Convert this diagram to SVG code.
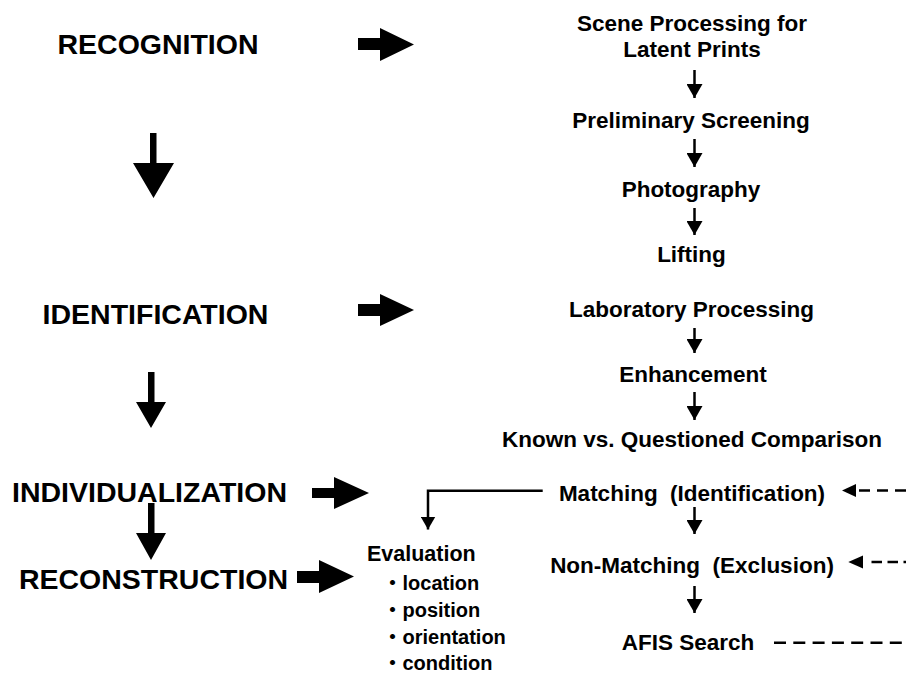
<svg xmlns="http://www.w3.org/2000/svg" width="906" height="674" viewBox="0 0 906 674">
<style>
text{font-family:"Liberation Sans",Arial,"Noto Sans CJK JP",sans-serif;font-weight:bold;fill:#000}
.big{font-size:28.5px;text-anchor:middle}
.step{font-size:22.5px;text-anchor:middle;white-space:pre}
.ev{font-size:21.5px}
.li{font-size:20px}
.fat{fill:#000;stroke:none}
.thin{stroke:#000;stroke-width:2.5;fill:none}
.dash{stroke:#000;stroke-width:2.5;fill:none}
.head{fill:#000}
</style>
<defs>
<marker id="ah" markerUnits="userSpaceOnUse" markerWidth="14" markerHeight="16" viewBox="0 0 14 16" refX="14" refY="8" orient="auto">
<path d="M0,0 L14,8 L0,16 z" fill="#000"/>
</marker>
<marker id="ah2" markerUnits="userSpaceOnUse" markerWidth="13" markerHeight="15" viewBox="0 0 13 15" refX="13" refY="7.5" orient="auto">
<path d="M0,0 L13,7.5 L0,15 z" fill="#000"/>
</marker>
</defs>
<rect width="906" height="674" fill="#fff"/>

<g id="recognition"><text class="big" x="158" y="54">RECOGNITION</text></g>
<g id="identification"><text class="big" x="155.5" y="324">IDENTIFICATION</text></g>
<g id="individualization"><text class="big" x="149.5" y="502">INDIVIDUALIZATION</text></g>
<g id="reconstruction"><text class="big" x="153.5" y="589">RECONSTRUCTION</text></g>

<g id="scene"><text class="step" x="692" y="31">Scene Processing for</text><text class="step" x="692" y="57">Latent Prints</text></g>
<g id="preliminary"><text class="step" x="691" y="128">Preliminary Screening</text></g>
<g id="photography"><text class="step" x="691" y="197">Photography</text></g>
<g id="lifting"><text class="step" x="691.5" y="262">Lifting</text></g>
<g id="laboratory"><text class="step" x="691.5" y="317">Laboratory Processing</text></g>
<g id="enhancement"><text class="step" x="693" y="382">Enhancement</text></g>
<g id="comparison"><text class="step" x="692" y="447">Known vs. Questioned Comparison</text></g>
<g id="matching"><text class="step" x="692" y="501">Matching  (Identification)</text></g>
<g id="nonmatching"><text class="step" x="692" y="573">Non-Matching  (Exclusion)</text></g>
<g id="afis"><text class="step" x="688" y="650">AFIS Search</text></g>
<g id="evaluation">
<text class="ev" x="367" y="561">Evaluation</text>
<text class="li" x="382.5" y="590">・location</text>
<text class="li" x="382.5" y="617">・position</text>
<text class="li" x="382.5" y="643.5">・orientation</text>
<text class="li" x="382.5" y="669.5">・condition</text>
</g>

<g id="connectors">
<polygon class="fat" points="358,38 380,38 380,28 414,44.5 380,61 380,50 358,50"/>
<polygon class="fat" points="358,304 380,304 380,294 414,310 380,326 380,316 358,316"/>
<polygon class="fat" points="312,488 334,488 334,477 369,493 334,509 334,498 312,498"/>
<polygon class="fat" points="297,571 319,571 319,560 354,576.5 319,593 319,583 297,583"/>
<polygon class="fat" points="150,133 156.5,133 156.5,163 174,163 153.5,198 133,163 150,163"/>
<polygon class="fat" points="148,372 154.5,372 154.5,402 166,402 151,428 136,402 148,402"/>
<polygon class="fat" points="148,503 154.5,503 154.5,533 166,533 151,560 136,533 148,533"/>

<line class="thin" x1="694.5" y1="70" x2="694.5" y2="98" marker-end="url(#ah)"/>
<line class="thin" x1="694.5" y1="139" x2="694.5" y2="167" marker-end="url(#ah)"/>
<line class="thin" x1="694.5" y1="208" x2="694.5" y2="235" marker-end="url(#ah)"/>
<line class="thin" x1="694.5" y1="328" x2="694.5" y2="353" marker-end="url(#ah)"/>
<line class="thin" x1="694.5" y1="392" x2="694.5" y2="420" marker-end="url(#ah)"/>
<line class="thin" x1="694.5" y1="507" x2="694.5" y2="534" marker-end="url(#ah)"/>
<line class="thin" x1="694.5" y1="586" x2="694.5" y2="613" marker-end="url(#ah)"/>

<path class="thin" d="M542.7,490.7 H428 V529.5" stroke-width="2" marker-end="url(#ah2)"/>

<line class="dash" x1="859" y1="490.5" x2="906" y2="490.5" stroke-dasharray="11 7"/>
<polygon class="head" points="842,490.5 856,484 856,497"/>
<line class="dash" x1="871.5" y1="562" x2="906" y2="562" stroke-dasharray="10.5 5.5"/>
<polygon class="head" points="848.3,562 863,555.5 863,568.5"/>
<line class="dash" x1="774" y1="642.7" x2="906" y2="642.7" stroke-dasharray="12 7.3"/>
</g>
</svg>
